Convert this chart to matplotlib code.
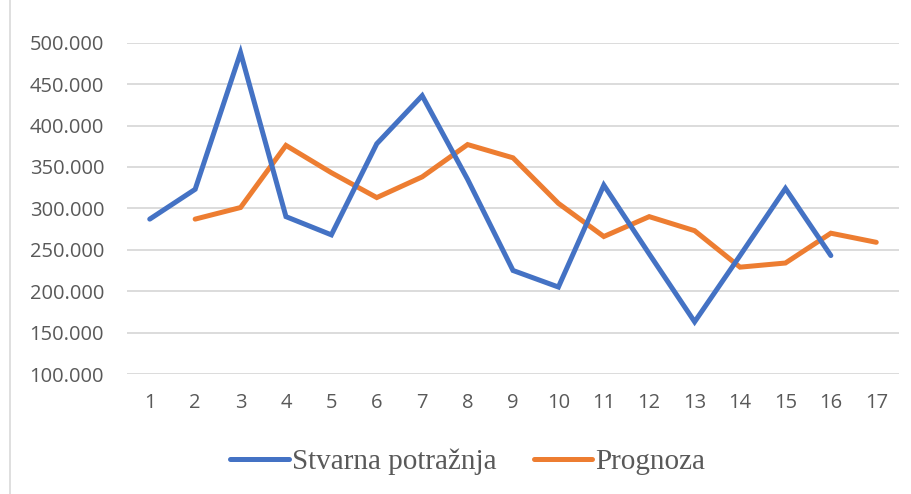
import matplotlib
matplotlib.use("Agg")
import matplotlib.pyplot as plt
from matplotlib.lines import Line2D
from matplotlib.ticker import FuncFormatter

# data
periods = list(range(1, 18))
demand_x = list(range(1, 17))
demand = [287000, 323000, 488000, 290000, 268000, 378000, 436000, 335000,
          225000, 205000, 328000, 245000, 163000, 243000, 324000, 243000]
forecast_x = list(range(2, 18))
forecast = [287000, 301000, 376000, 343000, 313000, 338000, 377000, 361000,
            306000, 266000, 290000, 273000, 229000, 234000, 270000, 259000]
yticks = list(range(100000, 500001, 50000))
labels = ["Stvarna potražnja", "Prognoza"]

BLUE = "#4472C4"
ORANGE = "#ED7D31"
GRAY = "#595959"

fig = plt.figure(figsize=(9.12, 4.94), dpi=100)
ax = fig.add_axes([0.1393, 0.2429, 0.8464, 0.6707])

for y in yticks:
    ax.axhline(y, color="#D9D9D9", lw=1.3, zorder=0)

ax.plot(demand_x, demand, color=BLUE, lw=3.6, solid_capstyle="round",
        solid_joinstyle="miter", zorder=3)
ax.plot(forecast_x, forecast, color=ORANGE, lw=3.6, solid_capstyle="round",
        solid_joinstyle="miter", zorder=2)

ax.set_xlim(0.5, 17.5)
ax.set_ylim(100000, 500000)
ax.set_xticks(periods)
ax.set_yticks(yticks)
ax.yaxis.set_major_formatter(FuncFormatter(lambda v, _p: f"{int(v):,}".replace(",", ".")))
for s in ax.spines.values():
    s.set_visible(False)
ax.tick_params(length=0, labelcolor=GRAY, labelsize=14.5)
ax.tick_params(axis="y", pad=16.5)
ax.tick_params(axis="x", pad=14)
for t in ax.get_xticklabels() + ax.get_yticklabels():
    t.set_family(["Open Sans", "DejaVu Sans"])

handles = [Line2D([], [], color=BLUE, lw=3.6, solid_capstyle="round"),
           Line2D([], [], color=ORANGE, lw=3.6, solid_capstyle="round")]
leg = fig.legend(handles, labels, loc="center", bbox_to_anchor=(0.513, 0.065),
                 ncol=2, frameon=False, handlelength=2.0, handletextpad=0.1,
                 columnspacing=1.3,
                 prop={"family": ["Liberation Serif", "DejaVu Serif"], "size": 21})
for t in leg.get_texts():
    t.set_color(GRAY)

# chart area border (left edge visible in the reference)
fig.add_artist(Line2D([0.0105, 0.0105], [0, 1], transform=fig.transFigure,
                      color="#D9D9D9", lw=1.2))

fig.savefig("out.png", dpi=100)
